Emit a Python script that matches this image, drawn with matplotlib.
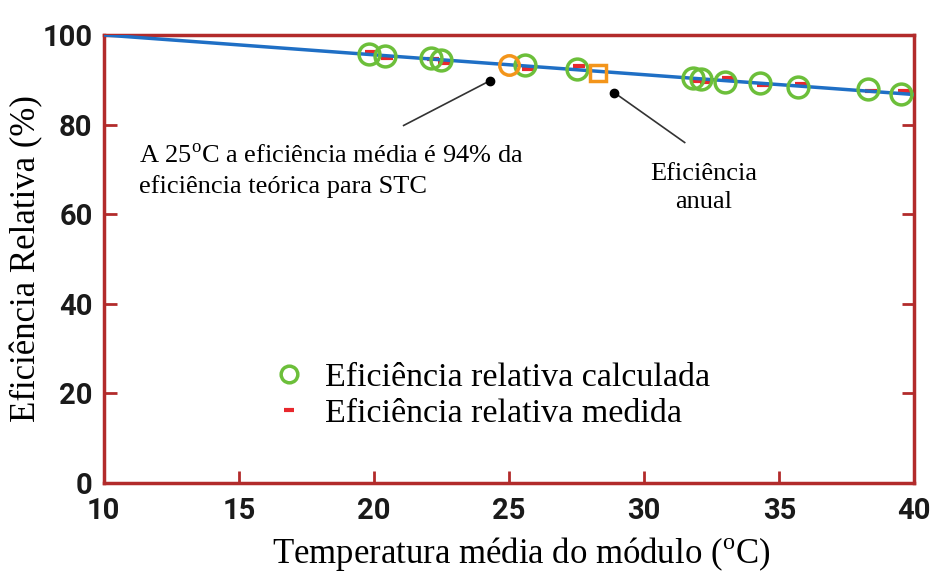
import matplotlib.pyplot as plt

# calculated relative efficiency (green circles)
temp_calc = [19.8, 20.4, 22.1, 22.5, 25.6, 27.5, 31.8, 32.1, 33.0, 34.3, 35.7, 38.3, 39.5]
eff_calc = [95.8, 95.4, 94.8, 94.3, 93.3, 92.4, 90.5, 90.1, 89.6, 89.3, 88.4, 87.9, 86.8]

# measured relative efficiency (red dashes)
temp_meas = [19.9, 20.5, 22.2, 22.6, 25.7, 27.6, 32.0, 32.3, 33.1, 34.4, 35.8, 38.4, 39.6]
eff_meas = [96.2, 94.9, 94.7, 93.8, 92.5, 93.0, 89.8, 89.4, 90.5, 88.9, 89.1, 87.6, 87.6]

# trend line
temp_line = [10, 40]
eff_line = [100, 86.7]

# highlighted points
stc_point = (25.0, 93.3)
annual_point = (28.3, 91.6)

frame = '#b22b2b'
serif = 'Liberation Serif'
plt.rcParams['mathtext.fontset'] = 'custom'
plt.rcParams['mathtext.rm'] = serif

fig = plt.figure(figsize=(9.34, 5.73), dpi=100)
ax = fig.add_axes([0.111, 0.157, 0.868, 0.782])

ax.plot(temp_meas, eff_meas, linestyle='none', marker='_', color='#e8282d',
        markersize=9, markeredgewidth=3, zorder=2, label='Eficiência relativa medida')
ax.plot(temp_line, eff_line, color='#1f6fc5', linewidth=2.5, zorder=3)
ax.plot(temp_calc, eff_calc, linestyle='none', marker='o', markerfacecolor='none',
        markeredgecolor='#6cbf3a', markersize=15, markeredgewidth=2.5, zorder=4,
        label='Eficiência relativa calculada')
ax.plot(*stc_point, marker='o', markerfacecolor='none', markeredgecolor='#f3951b',
        markersize=14, markeredgewidth=2.5, zorder=5)
ax.plot(*annual_point, marker='s', markerfacecolor='none', markeredgecolor='#f3951b',
        markersize=11, markeredgewidth=2.5, zorder=5)

# annotations
ax.plot([24.3, 21.1], [89.8, 79.8], color='#333333', linewidth=1.2, zorder=2)
ax.plot(24.3, 89.8, 'o', color='black', markersize=6)
ax.plot([28.9, 31.5], [87.1, 76.0], color='#333333', linewidth=1.2, zorder=2)
ax.plot(28.9, 87.1, 'o', color='black', markersize=6)

ax.text(11.3, 75.5, 'A 25$^{\\rm o}$C a eficiência média é 94% da\neficiência teórica para STC',
        fontsize=19, family=serif, va='top', ha='left', linespacing=1.35)
ax.text(32.2, 71.5, 'Eficiência\nanual', fontsize=19, family=serif, va='top', ha='center',
        linespacing=1.4)

ax.set_xlim(10, 40)
ax.set_ylim(0, 100)
ax.set_xticks([10, 15, 20, 25, 30, 35, 40])
ax.set_yticks([0, 20, 40, 60, 80, 100])

for s in ax.spines.values():
    s.set_color(frame)
    s.set_linewidth(2.5)

ax.tick_params(direction='in', length=9, width=2, color=frame, right=True, top=False,
               labelsize=21)
ax.tick_params(axis='x', pad=10)
ax.tick_params(axis='y', pad=8)
for lbl in ax.get_xticklabels() + ax.get_yticklabels():
    lbl.set_family(['DejaVu Sans Condensed', 'Liberation Sans Narrow', 'Roboto'])
    lbl.set_fontweight('bold')
    lbl.set_color('#1a1a1a')

ax.set_xlabel('Temperatura média do módulo ($^{\\rm o}$C)', fontsize=25, family=serif)
ax.set_ylabel('Eficiência Relativa (%)', fontsize=25, family=serif)
ax.xaxis.set_label_coords(0.515, -0.115)
ax.yaxis.set_label_coords(-0.074, 0.5)

handles, labels = ax.get_legend_handles_labels()
ax.legend(handles[::-1], labels[::-1], loc='lower left', bbox_to_anchor=(0.17, 0.052),
          frameon=False, prop={'family': serif, 'size': 24.5}, handlelength=1.0,
          handletextpad=0.55, labelspacing=0.15, markerscale=0.8)

fig.savefig('out.png', dpi=100)
